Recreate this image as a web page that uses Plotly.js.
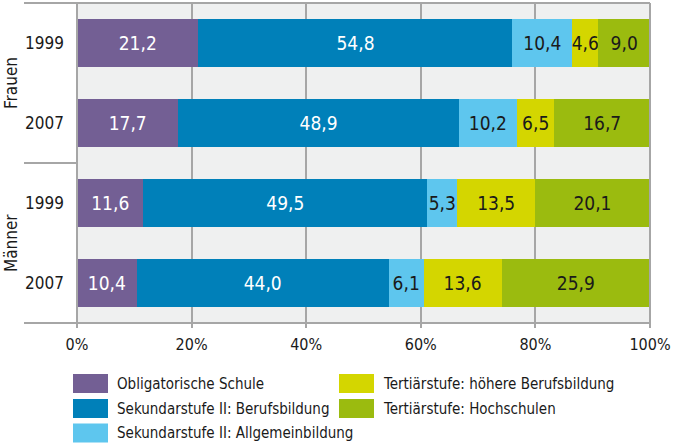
<!DOCTYPE html>
<html>
<head>
<meta charset="utf-8">
<script src="https://cdn.plot.ly/plotly-3.0.1.min.js"></script>
<style>html,body{margin:0;padding:0;background:#fff;}#chart{width:676px;height:448px;}</style>
</head>
<body>
<div id="chart"></div>
<script>
// ---- data ----
const groups = ["Frauen", "Männer"];
const years = ["1999", "2007", "1999", "2007"];
const seriesNames = [
  "Obligatorische Schule",
  "Sekundarstufe II: Berufsbildung",
  "Sekundarstufe II: Allgemeinbildung",
  "Tertiärstufe: höhere Berufsbildung",
  "Tertiärstufe: Hochschulen"
];
const obligatorisch = [21.2, 17.7, 11.6, 10.4];
const berufsbildung = [54.8, 48.9, 49.5, 44.0];
const allgemeinbildung = [10.4, 10.2, 5.3, 6.1];
const hoehereBerufsbildung = [4.6, 6.5, 13.5, 13.6];
const hochschulen = [9.0, 16.7, 20.1, 25.9];
const xTicks = [0, 20, 40, 60, 80, 100];
const xTickLabels = ["0%", "20%", "40%", "60%", "80%", "100%"];

// ---- styles ----
const colors = ["#735f94", "#0080b9", "#5ec6ee", "#d4d600", "#9bbb0f"];
const textColors = ["#ffffff", "#ffffff", "#1a1a1a", "#1a1a1a", "#1a1a1a"];
const FONT = "'DejaVu Sans Condensed', 'Liberation Sans Narrow', sans-serif";
const values = [obligatorisch, berufsbildung, allgemeinbildung, hoehereBerufsbildung, hochschulen];
const yIdx = years.map((_, i) => i);

const W = 676, H = 448, L = 77, R = 26, T = 3, B = 125;
const pw = W - L - R, ph = H - T - B;
const px = x => (x - L) / pw;
const py = y => (H - B - y) / ph;

const traces = seriesNames.map((name, s) => ({
  type: "bar",
  orientation: "h",
  name: name,
  x: values[s],
  y: yIdx,
  width: 0.61,
  marker: { color: colors[s], line: { width: 0 } },
  texttemplate: "%{x:.1f}",
  textposition: "inside",
  insidetextanchor: "middle",
  constraintext: "none",
  textangle: 0,
  textfont: { family: FONT, size: 19, color: textColors[s] },
  hoverinfo: "skip"
}));

const gray = "#a6a6a6";
const shapes = [
  { type: "line", xref: "paper", yref: "paper", x0: px(24), x1: 1, y0: 1, y1: 1, line: { color: gray, width: 2 } },
  { type: "line", xref: "paper", yref: "paper", x0: px(24), x1: 1, y0: 0, y1: 0, line: { color: gray, width: 2 } },
  { type: "line", xref: "paper", yref: "paper", x0: px(24), x1: 0, y0: 0.5, y1: 0.5, line: { color: gray, width: 2 } },
  { type: "line", xref: "paper", yref: "paper", x0: 1, x1: 1, y0: py(327), y1: 1, line: { color: gray, width: 2 } },
  { type: "line", xref: "paper", yref: "paper", x0: 0, x1: 0, y0: py(327), y1: 1, line: { color: gray, width: 2 } }
];
const annotations = [
  { text: groups[0], xref: "paper", yref: "paper", x: px(11), y: 0.75, textangle: -90, showarrow: false,
    font: { family: FONT, size: 17, color: "#1a1a1a" }, xanchor: "center", yanchor: "middle" },
  { text: groups[1], xref: "paper", yref: "paper", x: px(11), y: 0.25, textangle: -90, showarrow: false,
    font: { family: FONT, size: 17, color: "#1a1a1a" }, xanchor: "center", yanchor: "middle" }
];

// custom legend
const legendPos = [[73, 383.5], [73, 408.5], [73, 433], [339, 383.5], [339, 408.5]];
seriesNames.forEach((name, s) => {
  const [lx, ly] = legendPos[s];
  shapes.push({ type: "rect", xref: "paper", yref: "paper", x0: px(lx), x1: px(lx + 35), y0: py(ly - 9.5), y1: py(ly + 9.5),
    fillcolor: colors[s], line: { width: 0 } });
  annotations.push({ text: name, xref: "paper", yref: "paper", x: px(lx + 42), y: py(ly), xanchor: "left", yanchor: "middle",
    showarrow: false, font: { family: FONT, size: 15, color: "#1a1a1a" } });
});

const layout = {
  width: W, height: H,
  margin: { l: L, r: R, t: T, b: B, pad: 0 },
  barmode: "stack",
  separators: ",.",
  showlegend: false,
  paper_bgcolor: "#ffffff",
  plot_bgcolor: "#eff0f0",
  xaxis: {
    range: [0, 100], tickmode: "array", tickvals: xTicks, ticktext: xTickLabels,
    showgrid: true, gridcolor: gray, gridwidth: 2,
    ticks: "outside", ticklen: 4, tickcolor: gray, tickwidth: 2,
    zeroline: false, showline: false,
    tickfont: { family: FONT, size: 16, color: "#1a1a1a" },
    ticklabelstandoff: 3, fixedrange: true
  },
  yaxis: {
    range: [3.5, -0.5], tickmode: "array", tickvals: yIdx, ticktext: years,
    showgrid: false, zeroline: false, showline: false, ticks: "",
    tickfont: { family: FONT, size: 17, color: "#1a1a1a" },
    ticklabelstandoff: 12, fixedrange: true
  },
  shapes: shapes,
  annotations: annotations
};

Plotly.newPlot("chart", traces, layout, { displayModeBar: false, staticPlot: true });
</script>
</body>
</html>
